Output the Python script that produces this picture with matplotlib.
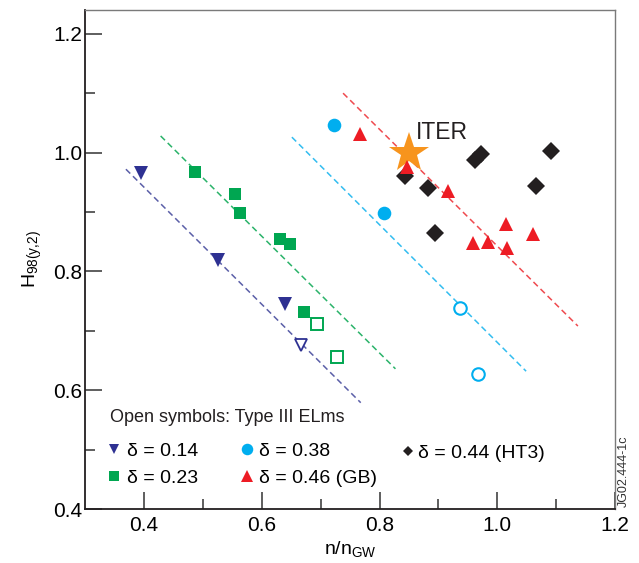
import numpy as np
import matplotlib

matplotlib.use("Agg")
import matplotlib.pyplot as plt
from matplotlib.lines import Line2D

plt.rcParams["font.family"] = ["Liberation Sans", "DejaVu Sans"]
plt.rcParams["mathtext.default"] = "regular"

# delta = 0.14 (filled / open = Type III ELMs)
d14_x = [0.395, 0.526, 0.640]
d14_y = [0.966, 0.819, 0.745]
d14_open_x = [0.667]
d14_open_y = [0.676]

# delta = 0.23
d23_x = [0.487, 0.555, 0.563, 0.630, 0.647, 0.672]
d23_y = [0.968, 0.931, 0.899, 0.854, 0.846, 0.732]
d23_open_x = [0.694, 0.727]
d23_open_y = [0.712, 0.656]

# delta = 0.38
d38_x = [0.722, 0.808]
d38_y = [1.047, 0.898]
d38_open_x = [0.936, 0.967]
d38_open_y = [0.739, 0.628]

# delta = 0.46 (GB)
d46_x = [0.767, 0.846, 0.916, 1.014, 0.959, 0.984, 1.017, 1.060]
d46_y = [1.031, 0.975, 0.935, 0.879, 0.847, 0.849, 0.840, 0.863]

# delta = 0.44 (HT3)
d44_x = [0.843, 0.883, 0.895, 0.963, 0.973, 1.092, 1.066]
d44_y = [0.960, 0.940, 0.864, 0.987, 0.997, 1.002, 0.944]

iter_x, iter_y = 0.85, 1.0

# dashed trend lines (start, end) per series
fit_x = [[0.369, 0.768], [0.428, 0.827], [0.651, 1.049], [0.738, 1.137]]
fit_y = [[0.972, 0.579], [1.028, 0.636], [1.026, 0.632], [1.100, 0.708]]

NAVY = "#2e3192"
GREEN = "#00a651"
CYAN = "#00aeef"
RED = "#ed1c24"
BLACK = "#231f20"
ORANGE = "#f7941d"
fit_colors = ["#5b5fa8", "#2bb36a", "#33bdf0", "#ef4a4f"]

fig = plt.figure(figsize=(6.39, 5.63), dpi=100)
ax = fig.add_axes([0.1335, 0.0959, 0.8289, 0.8863])

for fx, fy, c in zip(fit_x, fit_y, fit_colors):
    ax.plot(fx, fy, color=c, lw=1.1, dashes=(4, 2.5), zorder=1)

ax.plot(d14_x, d14_y, "v", ms=10, color=NAVY, mew=0, zorder=3)
ax.plot(d14_open_x, d14_open_y, "v", ms=9, mfc="white", mec=NAVY, mew=1.3, zorder=3)
ax.plot(d23_x, d23_y, "s", ms=8.9, color=GREEN, mew=0, zorder=3)
ax.plot(d23_open_x, d23_open_y, "s", ms=8, mfc="white", mec=GREEN, mew=1.4, zorder=3)
ax.plot(d38_x, d38_y, "o", ms=9.8, color=CYAN, mew=0, zorder=3)
ax.plot(d38_open_x, d38_open_y, "o", ms=9, mfc="white", mec=CYAN, mew=1.5, zorder=3)
ax.plot(d44_x, d44_y, "D", ms=8.7, color=BLACK, mew=0, zorder=3)
ax.plot(d46_x, d46_y, "^", ms=10, color=RED, mew=0, zorder=4)
ax.plot([iter_x], [iter_y], "*", ms=30, color=ORANGE, mew=0, zorder=2)
ax.text(0.862, 1.034, "ITER", fontsize=16.5, color=BLACK, va="center", ha="left")

ax.set_xlim(0.3, 1.2)
ax.set_ylim(0.4, 1.24)
ax.set_xticks([0.4, 0.6, 0.8, 1.0, 1.2])
ax.set_xticks([0.5, 0.7, 0.9, 1.1], minor=True)
ax.set_yticks([0.4, 0.6, 0.8, 1.0, 1.2])
ax.set_yticks([0.5, 0.7, 0.9, 1.1], minor=True)
ax.tick_params(which="major", direction="in", length=12, width=1.1, labelsize=15, color="#333333")
ax.tick_params(which="minor", direction="in", length=7, width=1.1, color="#333333")
ax.tick_params(axis="y", pad=2)
ax.tick_params(axis="x", pad=5)
for s in ("left", "bottom"):
    ax.spines[s].set_linewidth(1.3)
    ax.spines[s].set_color("#231f20")
for s in ("top", "right"):
    ax.spines[s].set_linewidth(1.0)
    ax.spines[s].set_color("#7a7a7a")

ax.set_xlabel("n/n$_{GW}$", fontsize=14, labelpad=3)
ax.set_ylabel("H$_{98(y{,}2)}$", fontsize=14, labelpad=7)

h14 = Line2D([], [], ls="none", marker="v", ms=6.5, color=NAVY, mew=0)
h23 = Line2D([], [], ls="none", marker="s", ms=6.7, color=GREEN, mew=0)
h38 = Line2D([], [], ls="none", marker="o", ms=8.3, color=CYAN, mew=0)
h46 = Line2D([], [], ls="none", marker="^", ms=8.5, color=RED, mew=0)
h44 = Line2D([], [], ls="none", marker="D", ms=4.8, color=BLACK, mew=0)

ax.text(0.0466, 0.1824, "Open symbols: Type III ELms", fontsize=13,
        color=BLACK, ha="left", va="center", transform=ax.transAxes)
leg = ax.legend([h14, h23, h38, h46],
                ["\u03b4 = 0.14", "\u03b4 = 0.23", "\u03b4 = 0.38", "\u03b4 = 0.46 (GB)"],
                ncol=2, loc="center left", bbox_to_anchor=(0.040, 0.0892),
                frameon=False, fontsize=14, handlelength=0.8,
                handletextpad=0.25, columnspacing=2.1, labelspacing=0.5,
                borderpad=0, borderaxespad=0)
ax.add_artist(leg)
ax.legend([h44], ["\u03b4 = 0.44 (HT3)"], loc="center left",
          bbox_to_anchor=(0.595, 0.112), frameon=False, fontsize=14,
          handlelength=0.8, handletextpad=0.1, borderpad=0, borderaxespad=0)

fig.text(0.976, 0.1, "JG02.444-1c", rotation=90, fontsize=9, color="#333333",
         ha="center", va="bottom")

fig.savefig("out.png", dpi=100)
